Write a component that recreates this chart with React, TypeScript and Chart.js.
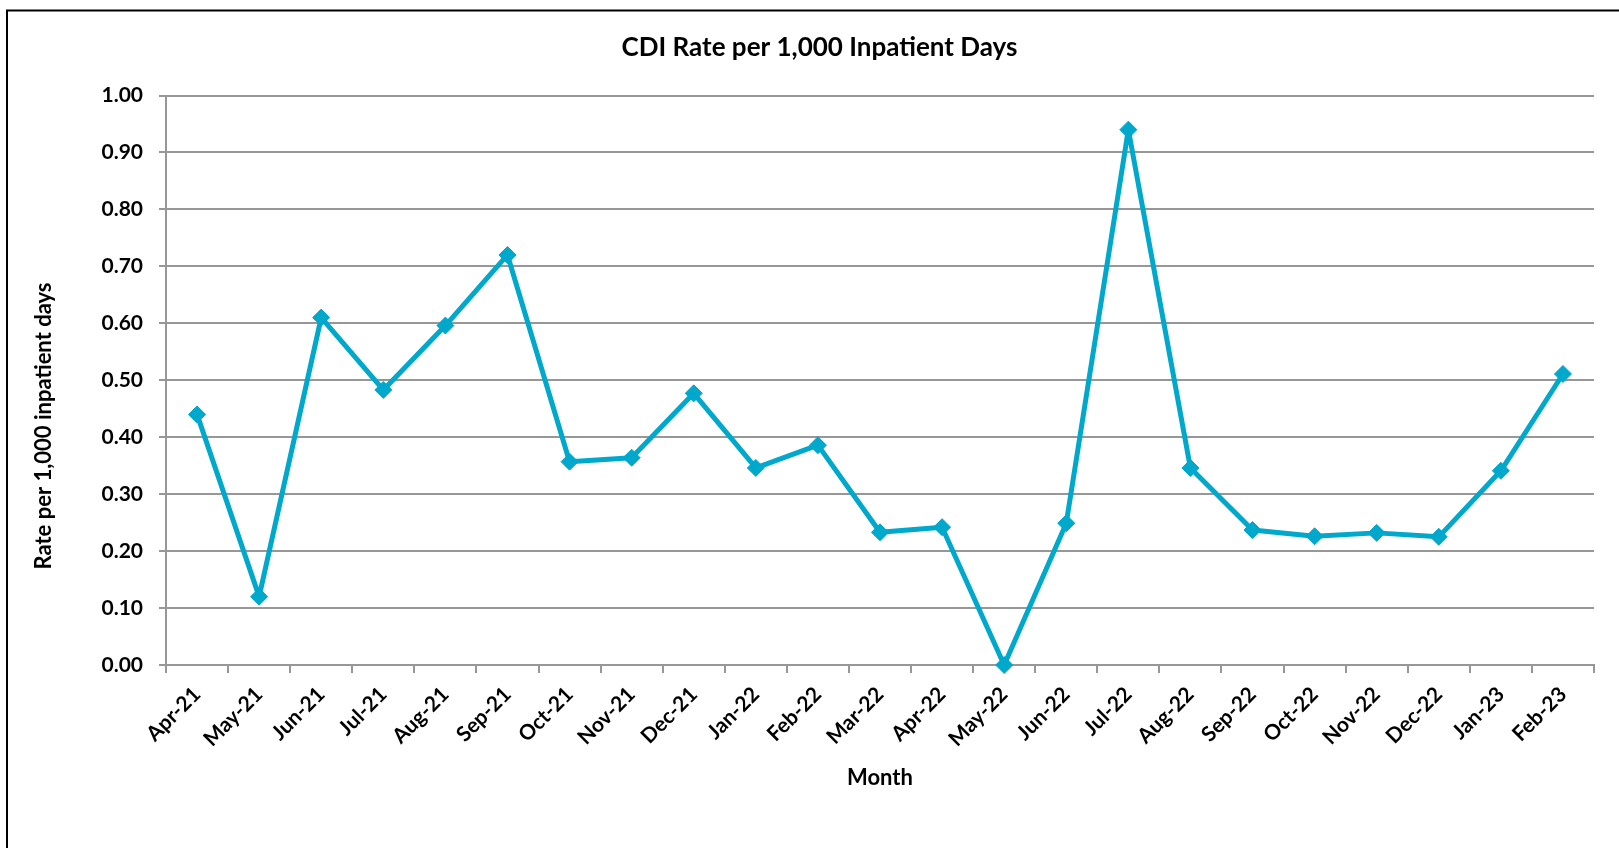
import React, { useEffect, useRef } from 'react';
import { Chart, registerables } from 'chart.js';

Chart.register(...registerables);

const months: string[] = [
  'Apr-21', 'May-21', 'Jun-21', 'Jul-21', 'Aug-21', 'Sep-21', 'Oct-21', 'Nov-21',
  'Dec-21', 'Jan-22', 'Feb-22', 'Mar-22', 'Apr-22', 'May-22', 'Jun-22', 'Jul-22',
  'Aug-22', 'Sep-22', 'Oct-22', 'Nov-22', 'Dec-22', 'Jan-23', 'Feb-23',
];

const cdiRate: number[] = [
  0.44, 0.12, 0.61, 0.483, 0.596, 0.72, 0.357, 0.364,
  0.477, 0.346, 0.386, 0.233, 0.242, 0.0, 0.249, 0.94,
  0.346, 0.237, 0.226, 0.232, 0.225, 0.341, 0.511,
];

const yTickValues: number[] = [0, 0.1, 0.2, 0.3, 0.4, 0.5, 0.6, 0.7, 0.8, 0.9, 1.0];

const chartTitle = 'CDI Rate per 1,000 Inpatient Days';
const xAxisTitle = 'Month';
const yAxisTitle = 'Rate per 1,000 inpatient days';

const FONT = 'Lato, "Open Sans", sans-serif';
const LINE_COLOR = '#00A8CC';
const GRID_COLOR = '#979797';

const W = 1619;
const H = 848;
const PAD_LEFT = 45;

const framePlugin = {
  id: 'frame',
  beforeDraw(chart: any) {
    const ctx = chart.ctx;
    ctx.save();
    ctx.fillStyle = '#ffffff';
    ctx.fillRect(0, 0, chart.width, chart.height);
    ctx.strokeStyle = '#000000';
    ctx.lineWidth = 2;
    ctx.strokeRect(7, 10.5, chart.width + 100, chart.height + 100);
    ctx.restore();
  },
};

const yTitlePlugin = {
  id: 'yTitle',
  afterDraw(chart: any) {
    const ctx = chart.ctx;
    ctx.save();
    ctx.translate(44, 426);
    ctx.rotate(-Math.PI / 2);
    ctx.font = `bold 22px ${FONT}`;
    ctx.fillStyle = '#000000';
    ctx.textAlign = 'center';
    ctx.textBaseline = 'middle';
    ctx.fillText(yAxisTitle, 0, 0);
    ctx.restore();
  },
};

export default function App() {
  const ref = useRef<HTMLCanvasElement | null>(null);

  useEffect(() => {
    if (!ref.current) return;
    const chart = new Chart(ref.current, {
      type: 'line',
      data: {
        labels: months,
        datasets: [
          {
            label: 'CDI Rate',
            data: cdiRate,
            borderColor: LINE_COLOR,
            backgroundColor: LINE_COLOR,
            borderWidth: 5,
            borderJoinStyle: 'round',
            borderCapStyle: 'round',
            pointStyle: 'rectRot',
            pointRadius: 8.5,
            pointBorderWidth: 1,
            pointBackgroundColor: LINE_COLOR,
            pointBorderColor: LINE_COLOR,
            tension: 0,
            fill: false,
            clip: false,
          },
        ],
      },
      options: {
        responsive: false,
        animation: false,
        devicePixelRatio: 1,
        layout: { padding: { left: PAD_LEFT, top: 0, right: 25, bottom: 0 } },
        plugins: {
          legend: { display: false },
          tooltip: { enabled: false },
          title: {
            display: true,
            text: chartTitle,
            color: '#000000',
            font: { family: FONT, size: 26, weight: 'bold' },
            padding: { top: 32, bottom: 32.3 },
          },
        },
        scales: {
          x: {
            type: 'category',
            offset: true,
            afterFit: (scale: any) => {
              scale.height = H - 665;
            },
            grid: {
              display: true,
              offset: true,
              drawOnChartArea: false,
              drawTicks: true,
              tickLength: 8,
              color: GRID_COLOR,
              lineWidth: 2,
            },
            border: { display: true, color: GRID_COLOR, width: 2 },
            ticks: {
              autoSkip: false,
              minRotation: 45,
              maxRotation: 45,
              padding: 9,
              color: '#000000',
              font: { family: FONT, size: 21, weight: 'bold' },
            },
            title: {
              display: true,
              text: xAxisTitle,
              color: '#000000',
              font: { family: FONT, size: 22, weight: 'bold' },
              padding: { top: 0, bottom: 57 },
            },
          },
          y: {
            min: 0,
            max: 1,
            afterFit: (scale: any) => {
              scale.width = 166 - PAD_LEFT;
            },
            afterBuildTicks: (scale: any) => {
              scale.ticks = yTickValues.map((v) => ({ value: v }));
            },
            grid: {
              display: true,
              drawTicks: true,
              tickLength: 7,
              color: GRID_COLOR,
              lineWidth: 2,
            },
            border: { display: true, color: GRID_COLOR, width: 2 },
            ticks: {
              padding: 16,
              color: '#000000',
              font: { family: FONT, size: 21, weight: 'bold' },
              callback: (v: any) => Number(v).toFixed(2),
            },
            title: { display: false },
          },
        },
      },
      plugins: [framePlugin, yTitlePlugin],
    });
    return () => chart.destroy();
  }, []);

  return (
    <div style={{ position: 'fixed', left: 0, top: 0, width: W, height: H, background: '#fff' }}>
      <canvas ref={ref} width={W} height={H} style={{ display: 'block', width: W, height: H }} />
    </div>
  );
}
